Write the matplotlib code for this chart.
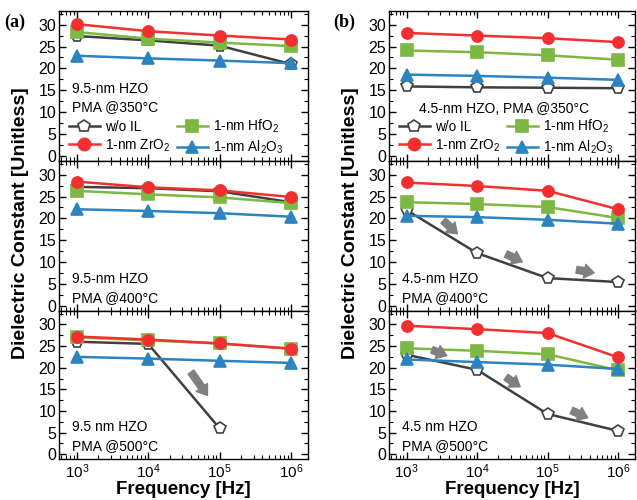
import numpy as np
import matplotlib
matplotlib.use("Agg")
import matplotlib.pyplot as plt
from matplotlib.ticker import LogLocator, MultipleLocator, NullFormatter

plt.rcParams['font.family'] = ['Liberation Sans', 'DejaVu Sans']
plt.rcParams['mathtext.fontset'] = 'custom'
plt.rcParams['mathtext.rm'] = 'Liberation Sans'
plt.rcParams['mathtext.it'] = 'Liberation Sans:italic'
plt.rcParams['mathtext.bf'] = 'Liberation Sans:bold'

freq = [1e3, 1e4, 1e5, 1e6]
series_names = ["w/o IL", "1-nm ZrO$_2$", "1-nm HfO$_2$", "1-nm Al$_2$O$_3$"]

# (a) 9.5-nm HZO
a_350 = {
    "wo": [27.4, 26.4, 25.2, 21.0],
    "zr": [30.1, 28.5, 27.5, 26.6],
    "hf": [28.3, 26.8, 25.9, 25.1],
    "al": [22.9, 22.3, 21.8, 21.2],
}
a_400 = {
    "wo": [27.2, 26.9, 26.2, 23.7],
    "zr": [28.4, 27.1, 26.4, 24.9],
    "hf": [26.3, 25.5, 24.8, 23.5],
    "al": [22.1, 21.7, 21.2, 20.4],
}
a_500 = {
    "wo": [26.0, 25.5, 6.0, np.nan],
    "zr": [27.2, 26.5, 25.6, 24.4],
    "hf": [27.0, 26.3, 25.6, 24.4],
    "al": [22.5, 22.1, 21.6, 21.1],
}
# (b) 4.5-nm HZO
b_350 = {
    "wo": [15.9, 15.7, 15.6, 15.5],
    "zr": [28.1, 27.5, 26.9, 26.0],
    "hf": [24.1, 23.7, 23.0, 22.0],
    "al": [18.6, 18.3, 17.9, 17.4],
}
b_400 = {
    "wo": [21.9, 12.1, 6.4, 5.5],
    "zr": [28.2, 27.4, 26.3, 22.1],
    "hf": [23.7, 23.3, 22.6, 20.1],
    "al": [20.6, 20.3, 19.7, 18.8],
}
b_500 = {
    "wo": [23.0, 19.5, 9.3, 5.4],
    "zr": [29.7, 28.9, 28.0, 22.4],
    "hf": [24.5, 23.9, 23.1, 19.4],
    "al": [21.9, 21.3, 20.7, 19.7],
}

panel_texts = [
    ["9.5-nm HZO\nPMA @350°C", "9.5-nm HZO\nPMA @400°C", "9.5 nm HZO\nPMA @500°C"],
    ["4.5-nm HZO, PMA @350°C", "4.5-nm HZO\nPMA @400°C", "4.5 nm HZO\nPMA @500°C"],
]

# gray trend arrows: (x_tail, y_tail, x_tip, y_tip)
arrows = {
    (0, 2): [(10**4.60, 19.0, 10**4.83, 13.6)],
    (1, 1): [(10**3.52, 19.5, 10**3.72, 16.5),
             (10**4.41, 11.9, 10**4.64, 10.1),
             (10**5.41, 8.3, 10**5.66, 7.6)],
    (1, 2): [(10**3.36, 24.1, 10**3.57, 22.8),
             (10**4.41, 17.8, 10**4.61, 15.6),
             (10**5.34, 10.1, 10**5.57, 8.4)],
}

styles = {
    "wo": dict(color="#404040", marker="p", mfc="white", mec="#404040", zorder=2),
    "hf": dict(color="#7DB843", marker="s", mfc="#7DB843", mec="#7DB843", zorder=3),
    "zr": dict(color="#F52F2F", marker="o", mfc="#F52F2F", mec="#F52F2F", zorder=4),
    "al": dict(color="#2B83C0", marker="^", mfc="#2B83C0", mec="#2B83C0", zorder=5),
}
labels = {"wo": series_names[0], "zr": series_names[1],
          "hf": series_names[2], "al": series_names[3]}

data = [[a_350, a_400, a_500], [b_350, b_400, b_500]]

fig = plt.figure(figsize=(6.37, 5.0), dpi=100)
W, H = 637.0, 500.0
col_left = [59, 389]
col_width = [249, 246]
edges = [11, 161, 311, 459]

for c in range(2):
    for r in range(3):
        top, bot = edges[r], edges[r + 1]
        ax = fig.add_axes([col_left[c] / W, 1 - bot / H, col_width[c] / W, (bot - top) / H])
        d = data[c][r]
        handles = {}
        for key in ["wo", "hf", "zr", "al"]:
            st = styles[key]
            h, = ax.plot(freq, d[key], color=st["color"], lw=1.8, marker=st["marker"],
                         ms=8 if key != "wo" else 8.5, mfc=st["mfc"], mec=st["mec"],
                         mew=1.2, zorder=st["zorder"], label=labels[key])
            handles[key] = h
        ax.set_xscale("log")
        ax.set_xlim(10**2.75, 10**6.24)
        ax.set_ylim(-1.1, 33.1)
        ax.yaxis.set_major_locator(MultipleLocator(5))
        ax.yaxis.set_minor_locator(MultipleLocator(2.5))
        ax.xaxis.set_major_locator(LogLocator(base=10, numticks=10))
        ax.xaxis.set_minor_locator(LogLocator(base=10, subs=np.arange(2, 10), numticks=10))
        ax.xaxis.set_minor_formatter(NullFormatter())
        ax.tick_params(axis="both", which="both", direction="in", top=True, right=True,
                       labelsize=11.5)
        ax.tick_params(axis="x", labelsize=11)
        ax.tick_params(axis="both", which="major", length=5, width=1)
        ax.tick_params(axis="both", which="minor", length=3, width=0.8)
        ax.tick_params(axis="y", which="major", pad=2)
        ax.tick_params(axis="x", which="major", pad=2.5)
        if r < 2:
            ax.tick_params(axis="x", labelbottom=False)
        for sp in ax.spines.values():
            sp.set_linewidth(1.0)

        if r == 0:
            if c == 0:
                ax.text(0.052, 0.42, panel_texts[c][r], transform=ax.transAxes,
                        fontsize=10, va="center", ha="left", linespacing=1.45)
            else:
                ax.text(0.12, 0.347, panel_texts[c][r], transform=ax.transAxes,
                        fontsize=10, va="center", ha="left")
            ax.legend([handles["wo"], handles["zr"], handles["hf"], handles["al"]],
                      [labels["wo"], labels["zr"], labels["hf"], labels["al"]],
                      ncol=2, frameon=False, loc="lower left",
                      bbox_to_anchor=(0.0, -0.03), fontsize=9.8,
                      handlelength=2.3, handletextpad=0.35, columnspacing=0.5,
                      labelspacing=0.25, borderaxespad=0.3, markerscale=1.1)
        else:
            ax.text(0.052, 0.04, panel_texts[c][r], transform=ax.transAxes,
                    fontsize=10, va="bottom", ha="left", linespacing=1.45)

        for (x0, y0, x1, y1) in arrows.get((c, r), []):
            ax.annotate("", xy=(x1, y1), xytext=(x0, y0),
                        arrowprops=dict(arrowstyle="simple,head_length=0.7,head_width=1.0,tail_width=0.5",
                                        color="#808080", shrinkA=0, shrinkB=0,
                                        mutation_scale=10), zorder=6)

    # column-level axis labels
    fig.text((col_left[c] + col_width[c] / 2) / W, 1 - 490 / H, "Frequency [Hz]",
             ha="center", va="center", fontsize=13.5, fontweight="bold")
    fig.text((col_left[c] - 38) / W, 1 - 223 / H, "Dielectric Constant [Unitless]",
             rotation=90, ha="center", va="center", fontsize=14, fontweight="bold")

fig.text(4 / W, 1 - 22 / H, "(a)", family="Liberation Serif", fontsize=13,
         fontweight="bold", ha="left", va="center")
fig.text(333 / W, 1 - 22 / H, "(b)", family="Liberation Serif", fontsize=13,
         fontweight="bold", ha="left", va="center")

fig.savefig("out.png", dpi=100)
